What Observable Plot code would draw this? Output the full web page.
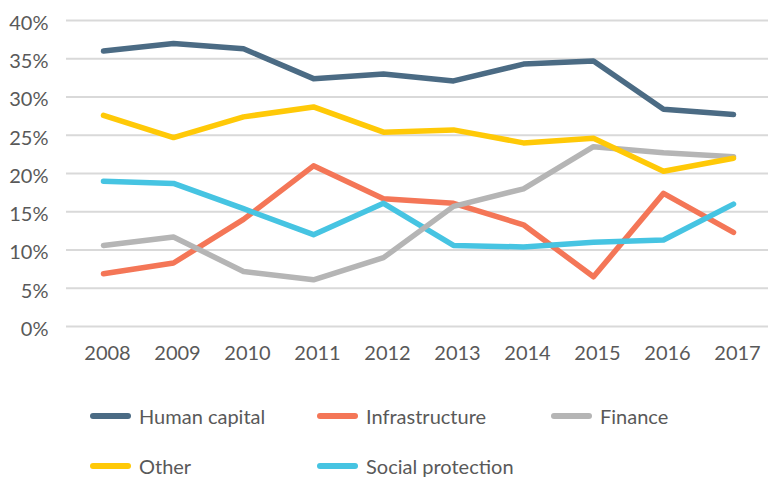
<!DOCTYPE html>
<html>
<head>
<meta charset="utf-8">
<script src="https://cdn.jsdelivr.net/npm/d3@7"></script>
<script src="https://cdn.jsdelivr.net/npm/@observablehq/plot@0.6"></script>
<style>
  body { margin: 0; background: #fff; font-family: Lato, "Open Sans", sans-serif; }
  #legend { display: grid; grid-template-columns: 227px 234px auto; grid-auto-rows: 50px; padding-left: 90px; margin-top: 6px; color: #595959; font-size: 20px; }
  .item { display: flex; align-items: center; }
  .sw { width: 41px; height: 6px; border-radius: 3px; margin-right: 8px; }
</style>
</head>
<body>
<div id="chart"></div>
<div id="legend"></div>
<script>
const years = ["2008","2009","2010","2011","2012","2013","2014","2015","2016","2017"];
const seriesNames = ["Human capital","Infrastructure","Finance","Other","Social protection"];
const colors = ["#4b6b84","#f47657","#b5b5b5","#ffc907","#46c4e2"];
const humanCapital = [36.0,37.0,36.3,32.4,33.0,32.1,34.3,34.7,28.4,27.7];
const infrastructure = [6.9,8.3,14.0,21.0,16.7,16.1,13.3,6.5,17.4,12.3];
const finance = [10.6,11.7,7.2,6.1,9.0,15.7,18.0,23.5,22.7,22.2];
const other = [27.6,24.7,27.4,28.7,25.4,25.7,24.0,24.6,20.3,22.0];
const socialProtection = [19.0,18.7,15.4,12.0,16.1,10.6,10.4,11.0,11.3,16.0];
const yTicks = [0,5,10,15,20,25,30,35,40];

const valuesBySeries = {
  "Human capital": humanCapital,
  "Infrastructure": infrastructure,
  "Finance": finance,
  "Other": other,
  "Social protection": socialProtection
};
// draw order: later on top
const drawOrder = ["Human capital","Infrastructure","Social protection","Finance","Other"];
const data = drawOrder.flatMap(s => years.map((y, i) => ({series: s, year: y, value: valuesBySeries[s][i]})));

const plot = Plot.plot({
  width: 768,
  height: 385,
  marginTop: 20,
  marginBottom: 59,
  marginLeft: 66,
  marginRight: 0,
  style: {fontFamily: "Lato, sans-serif", fontSize: "20px", color: "#595959"},
  x: {type: "point", domain: years, range: [99, 736], padding: 0},
  y: {domain: [0, 40]},
  color: {domain: seriesNames, range: colors},
  marks: [
    Plot.ruleY(yTicks, {stroke: "#d9d9d9", strokeWidth: 2.2}),
    Plot.axisY(yTicks, {tickSize: 0, tickPadding: 18, tickFormat: d => d + "%", dy: 3, fill: "#595959", fontSize: 20}),
    Plot.axisX(years, {tickSize: 0, tickPadding: 19, dx: 4, fill: "#595959", fontSize: 20, label: null}),
    Plot.line(data, {x: "year", y: "value", z: "series", stroke: "series", strokeWidth: 5.5, strokeLinecap: "round", strokeLinejoin: "round"})
  ]
});
plot.querySelectorAll("[aria-label='y-axis label'], [aria-label='x-axis label']").forEach(n => n.remove());
document.getElementById("chart").appendChild(plot);

const legend = document.getElementById("legend");
seriesNames.forEach((s, i) => {
  const it = document.createElement("div");
  it.className = "item";
  const sw = document.createElement("span");
  sw.className = "sw";
  sw.style.background = colors[i];
  const t = document.createElement("span");
  t.textContent = s;
  it.appendChild(sw); it.appendChild(t);
  legend.appendChild(it);
});
</script>
</body>
</html>
